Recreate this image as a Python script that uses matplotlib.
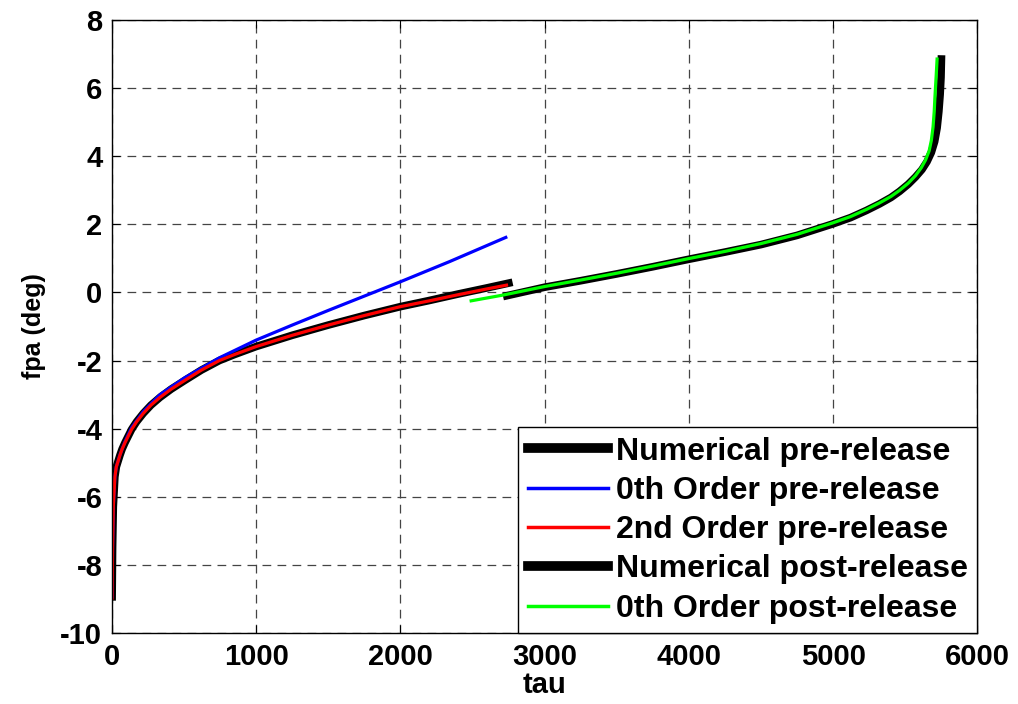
import matplotlib
matplotlib.use("Agg")
import matplotlib.pyplot as plt

plt.rcParams['font.family'] = ['Liberation Sans', 'DejaVu Sans']
plt.rcParams['font.weight'] = 'bold'
plt.rcParams['axes.unicode_minus'] = False

# ---- data ----
pre_num_tau = [1, 4, 9, 20, 30, 55, 70, 90, 110, 136, 170, 217, 270, 333, 410, 506, 620, 745, 852, 1000,
               1250, 1500, 1750, 2000, 2200, 2400, 2600, 2751]
pre_num_fpa = [-8.93, -7.5, -6.29, -5.41, -5.12, -4.78, -4.6, -4.41, -4.24, -4.02, -3.8, -3.55, -3.31, -3.08,
               -2.84, -2.58, -2.28, -2.0, -1.82, -1.59, -1.26, -0.96, -0.68, -0.42, -0.24, -0.05, 0.13, 0.27]

pre0_tau = [1, 4, 9, 20, 30, 55, 90, 136, 217, 333, 506, 745, 1000, 1250, 1500, 1750, 2000, 2340, 2730]
pre0_fpa = [-8.93, -7.5, -6.29, -5.41, -5.12, -4.77, -4.38, -3.97, -3.5, -3.0, -2.5, -1.92, -1.40, -0.96,
            -0.53, -0.11, 0.31, 0.90, 1.61]

pre2_tau = [1, 4, 9, 20, 30, 55, 70, 90, 110, 136, 170, 217, 270, 333, 410, 506, 620, 745, 852, 1000,
            1250, 1500, 1750, 2000, 2200, 2400, 2600, 2735]
pre2_fpa = [-8.97, -7.5, -6.29, -5.41, -5.12, -4.78, -4.6, -4.41, -4.24, -4.02, -3.8, -3.55, -3.31, -3.08,
            -2.84, -2.58, -2.28, -2.0, -1.82, -1.59, -1.26, -0.96, -0.68, -0.42, -0.25, -0.07, 0.1, 0.21]

post_num_tau = [2737, 3000, 3250, 3500, 3750, 4000, 4250, 4500, 4750, 5000, 5120, 5230, 5320, 5400, 5460,
                5520, 5570, 5615, 5650, 5680, 5703, 5720, 5732, 5741, 5747, 5750]
post_num_fpa = [-0.1, 0.15, 0.34, 0.54, 0.75, 0.97, 1.18, 1.4, 1.67, 2.01, 2.19, 2.4, 2.59, 2.78, 2.96,
                3.17, 3.38, 3.6, 3.83, 4.1, 4.42, 4.82, 5.3, 5.8, 6.3, 6.84]

post0_tau = [2490, 2712, 3000, 3250, 3500, 3750, 4000, 4250, 4500, 4750, 5000, 5120, 5230, 5320, 5400,
             5460, 5520, 5570, 5610, 5640, 5665, 5680, 5692, 5700, 5706, 5713, 5720]
post0_fpa = [-0.25, -0.08, 0.17, 0.36, 0.56, 0.77, 0.99, 1.2, 1.43, 1.7, 2.04, 2.22, 2.43, 2.62, 2.81,
             2.99, 3.2, 3.42, 3.65, 3.88, 4.15, 4.45, 4.85, 5.3, 5.8, 6.3, 6.84]

labels = ["Numerical pre-release", "0th Order pre-release", "2nd Order pre-release",
          "Numerical post-release", "0th Order post-release"]
xticks = [0, 1000, 2000, 3000, 4000, 5000, 6000]
yticks = [-10, -8, -6, -4, -2, 0, 2, 4, 6, 8]

fig = plt.figure(figsize=(10.18, 7.04), dpi=100)
ax = fig.add_axes([0.110, 0.1004, 0.8502, 0.8719])

ax.plot(pre_num_tau, pre_num_fpa, color='black', lw=5.5, label=labels[0])
ax.plot(pre0_tau, pre0_fpa, color='#0000ff', lw=2.3, label=labels[1])
ax.plot(pre2_tau, pre2_fpa, color='#ff0000', lw=2.3, label=labels[2])
ax.plot(post_num_tau, post_num_fpa, color='black', lw=5.5, label=labels[3])
ax.plot(post0_tau, post0_fpa, color='#00ff00', lw=2.3, label=labels[4])

ax.set_xlim(0, 6000)
ax.set_ylim(-10, 8)
ax.set_xticks(xticks)
ax.set_yticks(yticks)
ax.tick_params(direction='in', length=6, width=0.8, top=True, right=True,
               labelsize=21, pad=7)
for lab in ax.get_xticklabels() + ax.get_yticklabels():
    lab.set_fontweight('bold')
for sp in ax.spines.values():
    sp.set_linewidth(1.0)

ax.grid(True, color='#444444', lw=0.9, linestyle=(0, (7, 5)))
ax.set_axisbelow(True)

ax.set_xlabel('tau', fontsize=21, fontweight='bold', labelpad=0)
ax.set_ylabel('fpa (deg)', fontsize=18, fontweight='bold', labelpad=10)

leg = ax.legend(loc='lower right', frameon=True, fancybox=False,
                edgecolor='black', borderaxespad=0.0, labelspacing=0.29,
                handlelength=2.5, handletextpad=0.25, borderpad=0.3,
                prop={'weight': 'bold', 'size': 23})
leg.get_frame().set_linewidth(1.0)
leg.get_frame().set_alpha(1.0)
lw_leg = [7, 2.5, 2.5, 7, 2.5]
for ln, w in zip(leg.get_lines(), lw_leg):
    ln.set_linewidth(w)

fig.savefig('out.png', dpi=100)
